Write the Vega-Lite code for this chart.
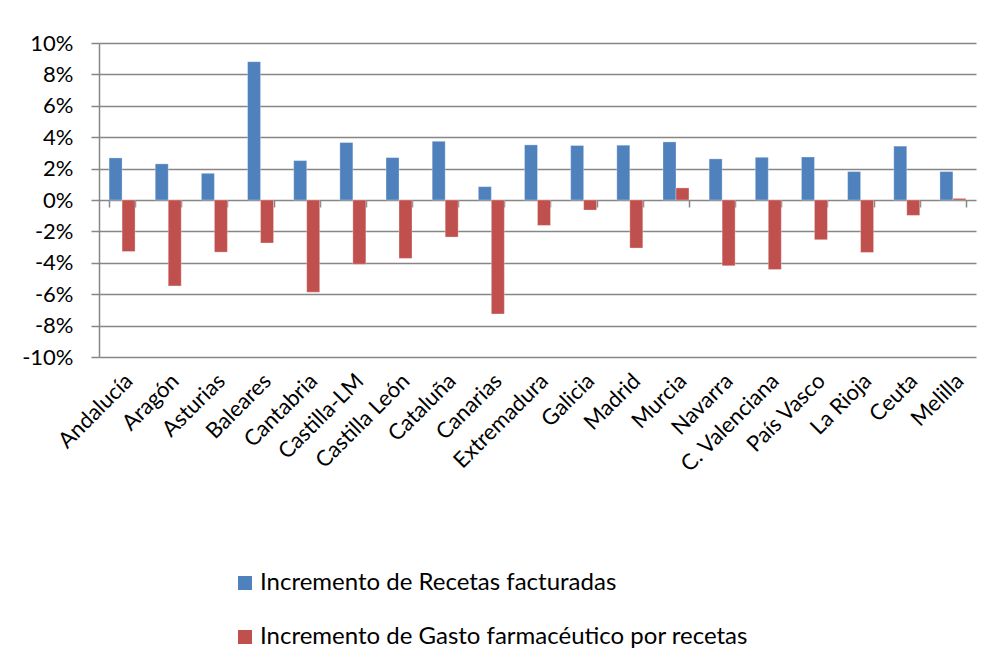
{
  "$schema": "https://vega.github.io/schema/vega-lite/v6.json",
  "width": 877,
  "height": 314,
  "autosize": {"type": "none"},
  "padding": {"left": 99, "top": 43, "right": 32, "bottom": 303},
  "background": "white",
  "data": {
    "values": [
      {"region": "Andalucía", "serie": "Incremento de Recetas facturadas", "valor": 0.0268},
      {"region": "Andalucía", "serie": "Incremento de Gasto farmacéutico por recetas", "valor": -0.0328},
      {"region": "Aragón", "serie": "Incremento de Recetas facturadas", "valor": 0.0230},
      {"region": "Aragón", "serie": "Incremento de Gasto farmacéutico por recetas", "valor": -0.0547},
      {"region": "Asturias", "serie": "Incremento de Recetas facturadas", "valor": 0.0170},
      {"region": "Asturias", "serie": "Incremento de Gasto farmacéutico por recetas", "valor": -0.0332},
      {"region": "Baleares", "serie": "Incremento de Recetas facturadas", "valor": 0.0881},
      {"region": "Baleares", "serie": "Incremento de Gasto farmacéutico por recetas", "valor": -0.0274},
      {"region": "Cantabria", "serie": "Incremento de Recetas facturadas", "valor": 0.0251},
      {"region": "Cantabria", "serie": "Incremento de Gasto farmacéutico por recetas", "valor": -0.0587},
      {"region": "Castilla-LM", "serie": "Incremento de Recetas facturadas", "valor": 0.0366},
      {"region": "Castilla-LM", "serie": "Incremento de Gasto farmacéutico por recetas", "valor": -0.0409},
      {"region": "Castilla León", "serie": "Incremento de Recetas facturadas", "valor": 0.0270},
      {"region": "Castilla León", "serie": "Incremento de Gasto farmacéutico por recetas", "valor": -0.0372},
      {"region": "Cataluña", "serie": "Incremento de Recetas facturadas", "valor": 0.0374},
      {"region": "Cataluña", "serie": "Incremento de Gasto farmacéutico por recetas", "valor": -0.0236},
      {"region": "Canarias", "serie": "Incremento de Recetas facturadas", "valor": 0.0085},
      {"region": "Canarias", "serie": "Incremento de Gasto farmacéutico por recetas", "valor": -0.0726},
      {"region": "Extremadura", "serie": "Incremento de Recetas facturadas", "valor": 0.0351},
      {"region": "Extremadura", "serie": "Incremento de Gasto farmacéutico por recetas", "valor": -0.0162},
      {"region": "Galicia", "serie": "Incremento de Recetas facturadas", "valor": 0.0347},
      {"region": "Galicia", "serie": "Incremento de Gasto farmacéutico por recetas", "valor": -0.0064},
      {"region": "Madrid", "serie": "Incremento de Recetas facturadas", "valor": 0.0349},
      {"region": "Madrid", "serie": "Incremento de Gasto farmacéutico por recetas", "valor": -0.0306},
      {"region": "Murcia", "serie": "Incremento de Recetas facturadas", "valor": 0.0370},
      {"region": "Murcia", "serie": "Incremento de Gasto farmacéutico por recetas", "valor": 0.0077},
      {"region": "Navarra", "serie": "Incremento de Recetas facturadas", "valor": 0.0262},
      {"region": "Navarra", "serie": "Incremento de Gasto farmacéutico por recetas", "valor": -0.0419},
      {"region": "C. Valenciana", "serie": "Incremento de Recetas facturadas", "valor": 0.0272},
      {"region": "C. Valenciana", "serie": "Incremento de Gasto farmacéutico por recetas", "valor": -0.0443},
      {"region": "País Vasco", "serie": "Incremento de Recetas facturadas", "valor": 0.0274},
      {"region": "País Vasco", "serie": "Incremento de Gasto farmacéutico por recetas", "valor": -0.0253},
      {"region": "La Rioja", "serie": "Incremento de Recetas facturadas", "valor": 0.0181},
      {"region": "La Rioja", "serie": "Incremento de Gasto farmacéutico por recetas", "valor": -0.0334},
      {"region": "Ceuta", "serie": "Incremento de Recetas facturadas", "valor": 0.0343},
      {"region": "Ceuta", "serie": "Incremento de Gasto farmacéutico por recetas", "valor": -0.0098},
      {"region": "Melilla", "serie": "Incremento de Recetas facturadas", "valor": 0.0181},
      {"region": "Melilla", "serie": "Incremento de Gasto farmacéutico por recetas", "valor": 0.0010}
    ]
  },
  "layer": [
    {
      "mark": {"type": "bar", "stroke": "white", "strokeWidth": 0.5, "strokeOpacity": 0.6},
      "encoding": {
        "x": {
          "field": "region",
          "type": "nominal",
          "sort": null,
          "title": null,
          "scale": {"paddingInner": 0.437, "paddingOuter": 0.2185},
          "axis": {
            "orient": "bottom",
            "labelAngle": -45,
            "labelFontSize": 22,
            "labelFont": "Lato",
            "labelColor": "#000000",
            "labelPadding": 13,
            "labelOverlap": false,
            "domain": false,
            "ticks": false,
            "grid": false
          }
        },
        "xOffset": {
          "field": "serie",
          "type": "nominal",
          "sort": ["Incremento de Recetas facturadas", "Incremento de Gasto farmacéutico por recetas"],
          "scale": {"paddingInner": 0, "paddingOuter": 0}
        },
        "y": {
          "field": "valor",
          "type": "quantitative",
          "title": null,
          "scale": {"domain": [-0.1, 0.1], "nice": false, "zero": true},
          "axis": {
            "format": ".0%",
            "values": [-0.1, -0.08, -0.06, -0.04, -0.02, 0, 0.02, 0.04, 0.06, 0.08, 0.1],
            "labelOverlap": false,
            "labelFontSize": 22,
            "labelFont": "Lato",
            "labelColor": "#000000",
            "labelPadding": 18,
            "tickSize": 8,
            "tickColor": "#868686",
            "tickWidth": 1.5,
            "domainColor": "#868686",
            "domainWidth": 1.5,
            "grid": true,
            "gridColor": "#868686",
            "gridWidth": 1.5
          }
        },
        "color": {
          "field": "serie",
          "type": "nominal",
          "sort": ["Incremento de Recetas facturadas", "Incremento de Gasto farmacéutico por recetas"],
          "scale": {"range": ["#4f81bd", "#c0504d"]},
          "legend": {
            "title": null,
            "orient": "none",
            "direction": "vertical",
            "legendX": 134,
            "legendY": 528,
            "symbolType": "square",
            "symbolSize": 196,
            "symbolStrokeWidth": 0,
            "labelFontSize": 24,
            "labelFont": "Lato",
            "labelColor": "#000000",
            "labelOffset": 3,
            "labelLimit": 700,
            "rowPadding": 30
          }
        }
      }
    },
    {
      "mark": {"type": "bar", "opacity": 0},
      "encoding": {
        "x": {
          "field": "region",
          "type": "nominal",
          "sort": null,
          "title": null,
          "axis": {
            "orient": "bottom",
            "labels": false,
            "domain": false,
            "grid": false,
            "ticks": true,
            "tickBand": "extent",
            "tickExtra": true,
            "tickSize": 7,
            "tickColor": "#868686",
            "tickWidth": 1.5,
            "offset": -157
          }
        }
      }
    }
  ],
  "resolve": {"axis": {"x": "independent"}},
  "config": {
    "view": {"stroke": null},
    "axisY": {"labelOverlap": false},
    "locale": {
      "number": {
        "decimal": ".",
        "thousands": ",",
        "grouping": [3],
        "currency": ["$", ""],
        "minus": "-"
      }
    }
  }
}
